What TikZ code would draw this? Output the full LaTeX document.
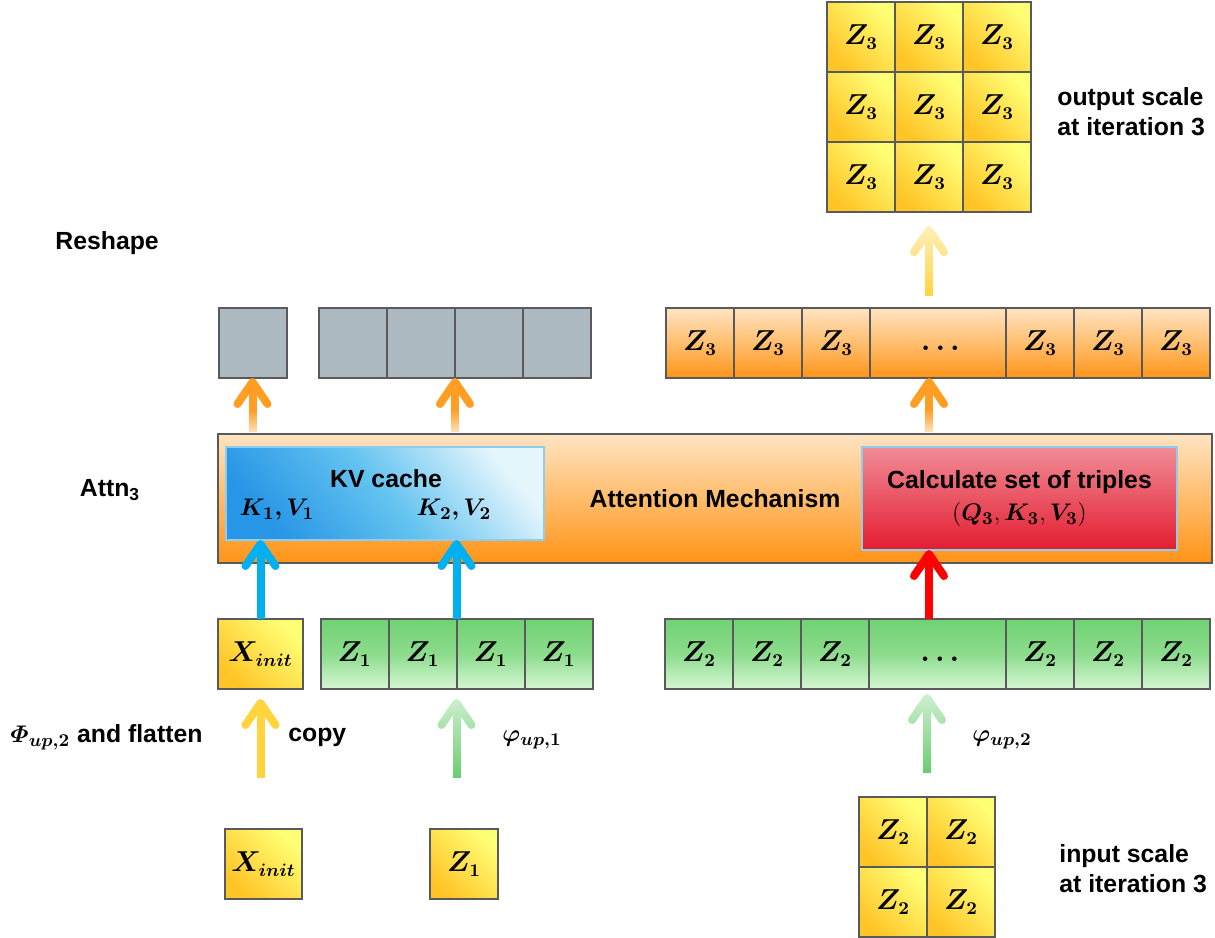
\documentclass[tikz,border=0pt]{standalone}
\usepackage{amsmath}
\usepackage{bm}
\usepackage{fontspec}
\setmainfont{Liberation Sans}
\usepackage{tikz}
\usetikzlibrary{arrows.meta,positioning,fadings}
\definecolor{linegray}{RGB}{90,90,90}
\definecolor{ylight}{RGB}{255,255,118}
\definecolor{ydark}{RGB}{255,196,38}
\definecolor{gtop}{RGB}{112,210,115}
\definecolor{gmid}{RGB}{140,220,140}
\definecolor{gbot}{RGB}{214,247,212}
\definecolor{otop}{RGB}{255,228,194}
\definecolor{omid}{RGB}{255,190,110}
\definecolor{obot}{RGB}{255,148,22}
\definecolor{slate}{RGB}{173,185,192}
\definecolor{kvdark}{RGB}{40,150,230}
\definecolor{kvmid}{RGB}{100,195,240}
\definecolor{kvlight}{RGB}{228,245,252}
\definecolor{trtop}{RGB}{240,140,150}
\definecolor{trbot}{RGB}{228,28,48}
\definecolor{edgeblue}{RGB}{140,205,240}
\definecolor{arrblue}{RGB}{0,176,240}
\definecolor{arrred}{RGB}{255,0,0}
\definecolor{arrorange}{RGB}{255,158,35}
\definecolor{arryellow}{RGB}{255,212,60}
\definecolor{arrgreen}{RGB}{105,205,110}
\tikzfading[name=fadetop, top color=transparent!30, bottom color=transparent!100]
\tikzfading[name=fadebottom, top color=transparent!100, bottom color=transparent!30]
\tikzset{
	cell/.style={
		rectangle,
		draw=linegray,
		line width=1pt,
		minimum width=34pt,
		minimum height=35pt,
		inner sep=0pt,
		outer sep=0pt,
		font=\fontsize{13.5}{16}\selectfont,
	},
	ycell/.style={cell, top color=ylight, bottom color=ydark, shading angle=-45},
	gcell/.style={cell, top color=gtop, bottom color=gbot, middle color=gmid},
	ocell/.style={cell, top color=otop, bottom color=obot, middle color=omid},
	slatecell/.style={cell, fill=slate},
	attbox/.style={
		rectangle,
		draw=linegray,
		line width=1pt,
		top color=otop,
		bottom color=obot,
		minimum width=497pt,
		minimum height=64.5pt,
		outer sep=0pt,
	},
	kvbox/.style={
		rectangle,
		draw=edgeblue,
		line width=0.75pt,
		top color=kvlight,
		bottom color=kvdark,
		middle color=kvmid,
		shading angle=-50,
		minimum width=159pt,
		minimum height=46.5pt,
		outer sep=0pt,
	},
	tribox/.style={
		rectangle,
		draw=edgeblue,
		line width=0.75pt,
		top color=trtop,
		bottom color=trbot,
		minimum width=157.5pt,
		minimum height=51.5pt,
		align=center,
		outer sep=0pt,
		font=\fontsize{12.4}{16}\selectfont\bfseries,
	},
	bigarrow/.style={
		line width=4pt,
		-{Straight Barb[length=11pt, width=15pt, round]},
	},
	lbl/.style={anchor=west, align=left, inner xsep=0pt},
}
\begin{document}
\begin{tikzpicture}[x=0.5pt,y=-0.5pt,node distance=0pt,font=\fontsize{12.4}{15}\selectfont\bfseries]
\useasboundingbox (0,0) rectangle (1215,937);

% output scale at iteration 3
\node [ycell] (out11) at (861,37) {$\bm{Z_3}$};
\node [ycell] (out12) [right=of out11] {$\bm{Z_3}$};
\node [ycell] (out13) [right=of out12] {$\bm{Z_3}$};
\node [ycell] (out21) [below=of out11] {$\bm{Z_3}$};
\node [ycell] (out22) [right=of out21] {$\bm{Z_3}$};
\node [ycell] (out23) [right=of out22] {$\bm{Z_3}$};
\node [ycell] (out31) [below=of out21] {$\bm{Z_3}$};
\node [ycell] (out32) [right=of out31] {$\bm{Z_3}$};
\node [ycell] (out33) [right=of out32] {$\bm{Z_3}$};
\node [lbl] (outlbl) at (1057,112) {output scale\\at iteration 3};

\node [lbl] (reshape) at (55,243) {Reshape};

% reshaped tokens
\node [slatecell] (gs) at (252.5,343) {};
\node [slatecell] (g1) at (353,343) {};
\node [slatecell] (g2) [right=of g1] {};
\node [slatecell] (g3) [right=of g2] {};
\node [slatecell] (g4) [right=of g3] {};

\node [ocell] (z3a) at (700,343) {$\bm{Z_3}$};
\node [ocell] (z3b) [right=of z3a] {$\bm{Z_3}$};
\node [ocell] (z3c) [right=of z3b] {$\bm{Z_3}$};
\node [ocell,minimum width=68pt] (z3d) [right=of z3c] {$\vphantom{\bm{Z_3}}\bm{\ldots}$};
\node [ocell] (z3e) [right=of z3d] {$\bm{Z_3}$};
\node [ocell] (z3f) [right=of z3e] {$\bm{Z_3}$};
\node [ocell] (z3g) [right=of z3f] {$\bm{Z_3}$};

% attention block
\node (attn) at (110,490) {$\mathbf{Attn_3}$};
\node [attbox] (att) at (715,498.5) {Attention Mechanism};
\node [kvbox] (kv) at (385,493.5) {};
\node (kvtitle) at (386,479) {KV cache};
\node (kv1) at (277,510) {$\bm{K_1,V_1}$};
\node (kv2) at (454,510) {$\bm{K_2,V_2}$};
\node [tribox] (tri) at (1019.5,498.5) {Calculate set of triples\\$(\bm{Q_3},\bm{K_3},\bm{V_3})$};

% flattened tokens
\node [ycell,minimum width=42.5pt] (xi) at (260.5,654) {$\bm{X_{init}}$};
\node [gcell] (z1a) at (354.5,654) {$\bm{Z_1}$};
\node [gcell] (z1b) [right=of z1a] {$\bm{Z_1}$};
\node [gcell] (z1c) [right=of z1b] {$\bm{Z_1}$};
\node [gcell] (z1d) [right=of z1c] {$\bm{Z_1}$};

\node [gcell] (z2a) at (699,654) {$\bm{Z_2}$};
\node [gcell] (z2b) [right=of z2a] {$\bm{Z_2}$};
\node [gcell] (z2c) [right=of z2b] {$\bm{Z_2}$};
\node [gcell,minimum width=68.5pt] (z2d) [right=of z2c] {$\vphantom{\bm{Z_2}}\bm{\ldots}$};
\node [gcell] (z2e) [right=of z2d] {$\bm{Z_2}$};
\node [gcell] (z2f) [right=of z2e] {$\bm{Z_2}$};
\node [gcell] (z2g) [right=of z2f] {$\bm{Z_2}$};

\node [lbl] (flat) at (10,737) {$\bm{\varPhi_{up,2}}$ and flatten};
\node [lbl] (copy) at (288,737) {copy};
\node [lbl] (phi1) at (502,740) {$\bm{\varphi_{up,1}}$};
\node [lbl] (phi2) at (972,740) {$\bm{\varphi_{up,2}}$};

% inputs
\node [ycell,minimum width=38.5pt] (xb) at (263.5,864) {$\bm{X_{init}}$};
\node [ycell] (zb) at (464,864) {$\bm{Z_1}$};
\node [ycell] (in11) at (893,832) {$\bm{Z_2}$};
\node [ycell] (in12) [right=of in11] {$\bm{Z_2}$};
\node [ycell] (in21) [below=of in11] {$\bm{Z_2}$};
\node [ycell] (in22) [right=of in21] {$\bm{Z_2}$};
\node [lbl] (inlbl) at (1059,869) {input scale\\at iteration 3};

% arrows
\draw [bigarrow,draw=arrblue] (xi.north) -- (xi.north |- kv.south);
\draw [bigarrow,draw=arrblue] (z1b.north east) -- (z1b.north east |- kv.south);
\draw [bigarrow,draw=arrred] (z2d.north -| out32.center) -- (tri.south -| out32.center);
\draw [bigarrow,draw=arrorange,shorten <=1pt] (att.north -| gs.center) -- (gs.south);
\draw [bigarrow,draw=arrorange,shorten <=1pt] (att.north -| g2.south east) -- (g2.south east);
\draw [bigarrow,draw=arrorange,shorten <=1pt] (att.north -| out32.center) -- (z3d.south -| out32.center);
\draw [bigarrow,draw=arryellow,shorten <=6pt,shorten >=7pt] (z3d.north -| out32.center) -- (out32.south);
\draw [bigarrow,draw=arryellow,shorten <=25.5pt,shorten >=5pt] (xi.south |- xb.north) -- (xi.south);
\draw [bigarrow,draw=arrgreen,shorten <=25.5pt,shorten >=5pt] (z1b.south east |- zb.north) -- (z1b.south east);
\draw [bigarrow,draw=arrgreen,shorten <=12pt,shorten >=2.5pt] (in11.north east) -- (in11.north east |- z2d.south);

% fading of the arrow shafts
\fill [white,path fading=fadebottom] (246.5,410) rectangle (258.5,432);
\fill [white,path fading=fadebottom] (449,410) rectangle (461,432);
\fill [white,path fading=fadebottom] (923.5,410) rectangle (935.5,432);
\fill [white,path fading=fadetop] (907,221) rectangle (952,297);
\fill [white,path fading=fadetop] (435,695) rectangle (479,779);
\fill [white,path fading=fadetop] (905,692) rectangle (949,774);
\end{tikzpicture}
\end{document}
